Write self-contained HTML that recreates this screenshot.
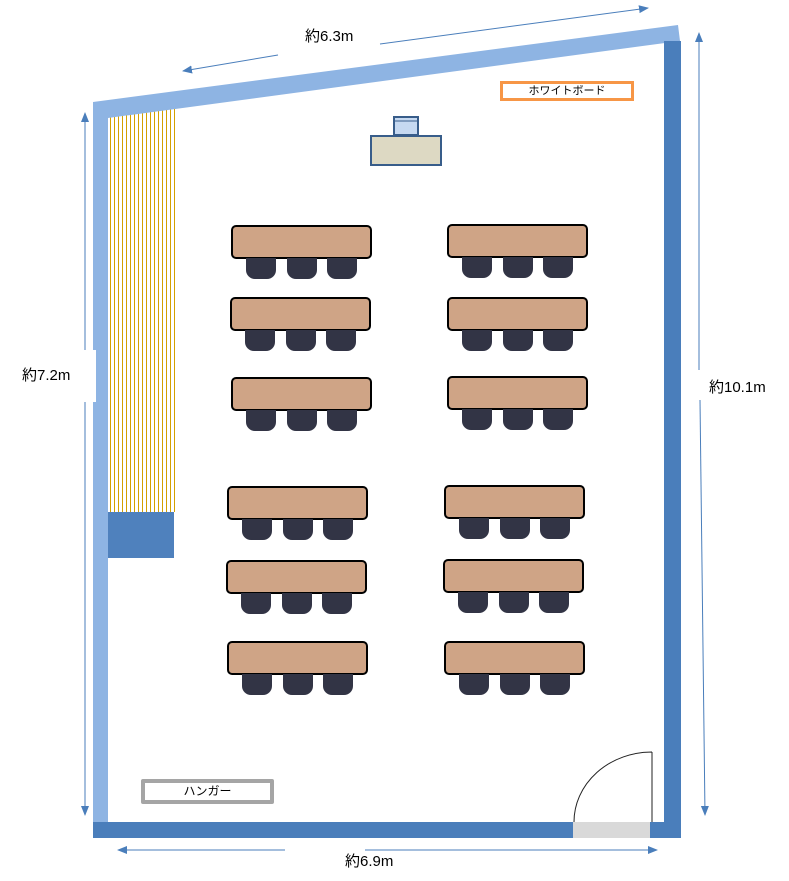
<!DOCTYPE html>
<html><head><meta charset="utf-8"><style>
body{margin:0;background:#fff;width:789px;height:881px;overflow:hidden;position:relative;font-family:"Liberation Sans","Noto Sans CJK JP",sans-serif}
.t{position:absolute;width:137px;height:30px;background:#cfa486;border:2px solid #000;border-radius:5px;box-sizing:content-box}
.c{position:absolute;width:30px;height:21px;background:#323445;border-radius:0 0 9px 9px}
.lbl{position:absolute;font-size:15px;color:#000}
</style></head><body>
<div style="position:absolute;left:110px;top:108px;width:66px;height:404px;background:repeating-linear-gradient(90deg,#d4a000 0px,#d4a000 1px,#fff 1px,#fff 4px)"></div>
<svg width="789" height="881" style="position:absolute;left:0;top:0">
<defs><marker id="a" markerWidth="10" markerHeight="10" refX="9" refY="5" orient="auto" markerUnits="userSpaceOnUse"><path d="M0,1 L10,5 L0,9z" fill="#4a7ebb"/></marker></defs>
<rect x="108" y="512" width="66" height="46" fill="#4f81bd"/>
<polygon points="93,102 678,25 680,41 108,118 93,118" fill="#8eb4e3"/>
<rect x="93" y="103" width="15" height="720" fill="#8eb4e3"/>
<rect x="664" y="41" width="17" height="782" fill="#4a7ebb"/>
<rect x="93" y="822" width="588" height="16" fill="#4a7ebb"/>
<rect x="573" y="822" width="77" height="16" fill="#d9d9d9"/>
<path d="M652,752 L652,822 M652,752 A78,70 0 0 0 574,822" fill="none" stroke="#222" stroke-width="1"/>
<rect x="394" y="117" width="24" height="18" fill="#c6d9f1" stroke="#385d8a" stroke-width="2"/>
<line x1="394" y1="121" x2="418" y2="121" stroke="#385d8a" stroke-width="1"/>
<rect x="371" y="136" width="70" height="29" fill="#ddd9c3" stroke="#385d8a" stroke-width="2"/>
<line x1="380" y1="44" x2="648" y2="8" stroke="#4a7ebb" stroke-width="1" marker-end="url(#a)"/>
<line x1="278" y1="55" x2="183" y2="71" stroke="#4a7ebb" stroke-width="1" marker-end="url(#a)"/>
<line x1="85" y1="350" x2="85" y2="113" stroke="#4a7ebb" stroke-width="1" marker-end="url(#a)"/>
<line x1="85" y1="400" x2="85" y2="815" stroke="#4a7ebb" stroke-width="1" marker-end="url(#a)"/>
<line x1="699" y1="370" x2="699" y2="33" stroke="#4a7ebb" stroke-width="1" marker-end="url(#a)"/>
<line x1="700" y1="400" x2="705" y2="815" stroke="#4a7ebb" stroke-width="1" marker-end="url(#a)"/>
<line x1="285" y1="850" x2="118" y2="850" stroke="#4a7ebb" stroke-width="1" marker-end="url(#a)"/>
<line x1="365" y1="850" x2="657" y2="850" stroke="#4a7ebb" stroke-width="1" marker-end="url(#a)"/>
</svg>
<div class="lbl" style="left:305px;top:25px">約6.3m</div>
<div class="lbl" style="left:18px;top:350px;width:78px;height:52px;line-height:52px;padding-left:4px;box-sizing:border-box;background:#fff">約7.2m</div>
<div class="lbl" style="left:709px;top:376px">約10.1m</div>
<div class="lbl" style="left:345px;top:850px">約6.9m</div>
<div style="position:absolute;left:500px;top:81px;width:134px;height:20px;border:3px solid #f79646;box-sizing:border-box;font-size:11px;text-align:center;line-height:14px">ホワイトボード</div>
<div style="position:absolute;left:141px;top:779px;width:133px;height:25px;border:4px solid #a5a5a5;border-radius:2px;box-sizing:border-box;font-size:12px;text-align:center;line-height:17px">ハンガー</div>
<div class="t" style="left:231px;top:225px"></div><div class="c" style="left:246px;top:258px"></div><div class="c" style="left:287px;top:258px"></div><div class="c" style="left:327px;top:258px"></div>
<div class="t" style="left:447px;top:224px"></div><div class="c" style="left:462px;top:257px"></div><div class="c" style="left:503px;top:257px"></div><div class="c" style="left:543px;top:257px"></div>
<div class="t" style="left:230px;top:297px"></div><div class="c" style="left:245px;top:330px"></div><div class="c" style="left:286px;top:330px"></div><div class="c" style="left:326px;top:330px"></div>
<div class="t" style="left:447px;top:297px"></div><div class="c" style="left:462px;top:330px"></div><div class="c" style="left:503px;top:330px"></div><div class="c" style="left:543px;top:330px"></div>
<div class="t" style="left:231px;top:377px"></div><div class="c" style="left:246px;top:410px"></div><div class="c" style="left:287px;top:410px"></div><div class="c" style="left:327px;top:410px"></div>
<div class="t" style="left:447px;top:376px"></div><div class="c" style="left:462px;top:409px"></div><div class="c" style="left:503px;top:409px"></div><div class="c" style="left:543px;top:409px"></div>
<div class="t" style="left:227px;top:486px"></div><div class="c" style="left:242px;top:519px"></div><div class="c" style="left:283px;top:519px"></div><div class="c" style="left:323px;top:519px"></div>
<div class="t" style="left:444px;top:485px"></div><div class="c" style="left:459px;top:518px"></div><div class="c" style="left:500px;top:518px"></div><div class="c" style="left:540px;top:518px"></div>
<div class="t" style="left:226px;top:560px"></div><div class="c" style="left:241px;top:593px"></div><div class="c" style="left:282px;top:593px"></div><div class="c" style="left:322px;top:593px"></div>
<div class="t" style="left:443px;top:559px"></div><div class="c" style="left:458px;top:592px"></div><div class="c" style="left:499px;top:592px"></div><div class="c" style="left:539px;top:592px"></div>
<div class="t" style="left:227px;top:641px"></div><div class="c" style="left:242px;top:674px"></div><div class="c" style="left:283px;top:674px"></div><div class="c" style="left:323px;top:674px"></div>
<div class="t" style="left:444px;top:641px"></div><div class="c" style="left:459px;top:674px"></div><div class="c" style="left:500px;top:674px"></div><div class="c" style="left:540px;top:674px"></div>
</body></html>
